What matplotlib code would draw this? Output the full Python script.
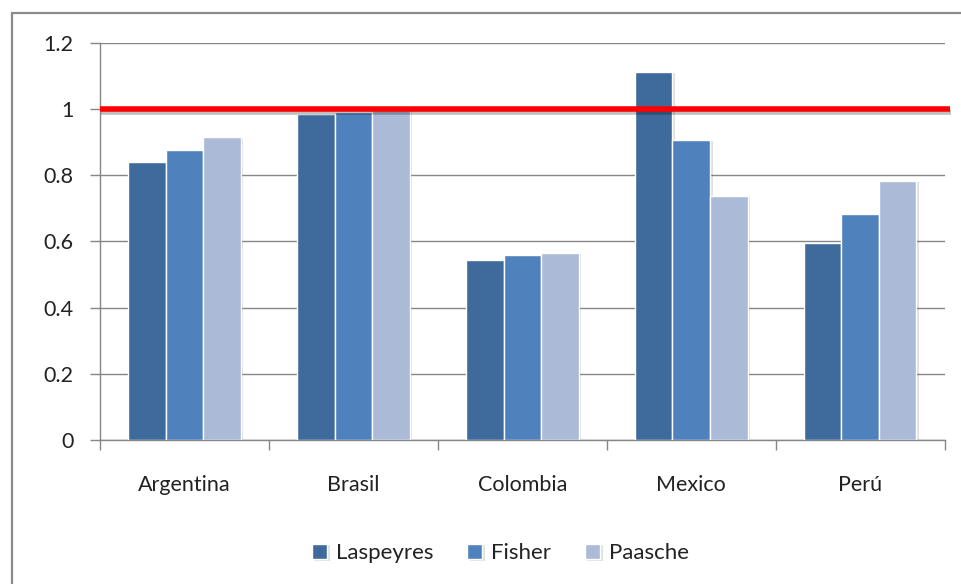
import numpy as np
import matplotlib
matplotlib.use("Agg")
import matplotlib.pyplot as plt
from matplotlib.patches import Rectangle
import matplotlib.patheffects as pe

plt.rcParams['font.family'] = ['Lato', 'DejaVu Sans']

paises = ["Argentina", "Brasil", "Colombia", "Mexico", "Perú"]
laspeyres = [0.840, 0.985, 0.544, 1.112, 0.596]
fisher = [0.877, 0.991, 0.559, 0.907, 0.683]
paasche = [0.916, 0.998, 0.565, 0.738, 0.783]
series = ["Laspeyres", "Fisher", "Paasche"]
colores = ["#3F6A9C", "#4F81BD", "#AABAD7"]
referencia = 1.0

fig = plt.figure(figsize=(9.61, 5.84), dpi=100)
ax = fig.add_axes([0.104, 0.2466, 0.879, 0.6798])

# marco exterior del grafico
fig.patches.append(Rectangle((0.0125, -0.02), 1.0, 0.998, transform=fig.transFigure,
                             fill=False, edgecolor="#8A8A8A", lw=1.6))

x = np.arange(len(paises))
ancho = 0.222
sombra = [pe.SimplePatchShadow(offset=(2, -1), shadow_rgbFace="#000000", alpha=0.12), pe.Normal()]
for i, (nombre, valores) in enumerate(zip(series, [laspeyres, fisher, paasche])):
    barras = ax.bar(x + (i - 1) * ancho, valores, ancho, color=colores[i],
                    edgecolor="white", linewidth=1.0, label=nombre, zorder=3)
    for b in barras:
        b.set_path_effects(sombra)

# linea de referencia en 1
ax.plot([-0.5, 4.53], [referencia, referencia], color="#FF0000", lw=4, zorder=5,
        clip_on=False, solid_capstyle="butt",
        path_effects=[pe.SimpleLineShadow(offset=(1, -2), alpha=0.25), pe.Normal()])

ax.set_xlim(-0.5, 4.5)
ax.set_ylim(0, 1.2)
ax.set_yticks([0, 0.2, 0.4, 0.6, 0.8, 1.0, 1.2])
ax.set_yticklabels(["0", "0.2", "0.4", "0.6", "0.8", "1", "1.2"])
ax.yaxis.grid(True, color="#868686", lw=1.0, zorder=0)
ax.set_axisbelow(True)

ax.set_xticks(x)
ax.set_xticklabels(paises)
ax.set_xticks(np.arange(-0.5, 5.0, 1.0), minor=True)
ax.tick_params(axis="x", which="major", length=0, pad=25, labelsize=15.5, colors="#222222")
ax.tick_params(axis="x", which="minor", length=7, width=1, color="#868686", direction="out")
ax.tick_params(axis="y", length=7, width=1, pad=12, labelsize=15.5,
               color="#868686", labelcolor="#222222")

for s in ["top", "right"]:
    ax.spines[s].set_visible(False)
for s in ["left", "bottom"]:
    ax.spines[s].set_color("#868686")
    ax.spines[s].set_linewidth(1.0)

ax.legend(loc="center", bbox_to_anchor=(0.474, -0.285), ncol=3, frameon=False,
          fontsize=16, handlelength=0.7, handleheight=0.7, handletextpad=0.4,
          columnspacing=1.5, labelcolor="#222222")

fig.savefig("out.png", dpi=100)
